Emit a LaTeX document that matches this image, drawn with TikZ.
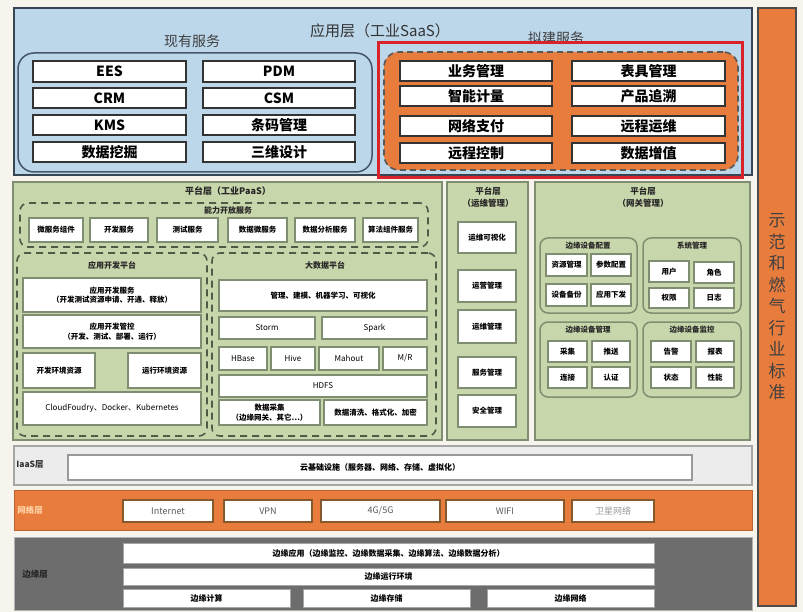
\documentclass[tikz,border=0pt]{standalone}
\usepackage{fontspec}
\setmainfont{Noto Sans CJK SC}
\definecolor{bgc}{HTML}{F6F4EC}
\definecolor{saasblue}{HTML}{BCD6EA}
\definecolor{orng}{HTML}{E87C3C}
\definecolor{grn}{HTML}{C8D6AC}
\definecolor{grnline}{HTML}{7F8E70}
\definecolor{dgrn}{HTML}{4E5C45}
\definecolor{edgegray}{HTML}{6D6D6D}
\definecolor{iaasgray}{HTML}{ECECEC}
\definecolor{redline}{HTML}{D8232A}
\definecolor{slate}{HTML}{46566A}
\newcommand\BX[7][]{%
  \pgfmathsetmacro\myCX{(#3+#5)/2}%
  \pgfmathsetmacro\myCY{(#4+#6)/2}%
  \pgfmathsetmacro\myWW{#5-#3}%
  \pgfmathsetmacro\myHH{#6-#4}%
  \node[#1, minimum width=\myWW pt, minimum height=\myHH pt] (#2) at (\myCX,\myCY) {#7};}
\tikzset{
  base/.style={inner sep=0pt, outer sep=0pt, rectangle, align=center},
  topbox/.style={base, draw=black!80, line width=1.4pt, fill=white, font=\fontsize{14}{16}\selectfont\bfseries},
  pbox/.style={base, draw=grnline, line width=1.4pt, fill=white, font=\fontsize{7.5}{9.5}\selectfont\bfseries},
  gbox/.style={pbox, font=\fontsize{7.5}{9}\selectfont\bfseries},
  outer/.style={base, draw=grnline, line width=1.3pt, fill=grn},
  dbox/.style={base, draw=dgrn, line width=1.6pt, dash pattern=on 7pt off 5pt, rounded corners=8pt},
  grp/.style={base, draw=grnline, line width=1.5pt, fill=grn, rounded corners=8pt},
  ttl/.style={inner sep=0pt, font=\fontsize{8}{10}\selectfont\bfseries, text=black!85, align=center},
  iabox/.style={base, draw=gray!80, line width=1.3pt, fill=white, font=\fontsize{8}{10}\selectfont\bfseries},
  netbox/.style={base, draw=brown!70!black, line width=1.3pt, fill=white, text=black!65, font=\fontsize{9}{11}\selectfont},
  edbox/.style={base, draw=gray!70, line width=1pt, fill=white, font=\fontsize{8}{10}\selectfont\bfseries},
}
\begin{document}
\begin{tikzpicture}[x=1pt,y=-1pt]
\useasboundingbox (0,0) rectangle (803,612);
\fill[bgc] (0,0) rectangle (803,612);

% ---------- application layer ----------
\BX[base, draw=slate!80!black, line width=1.4pt, fill=saasblue]{saas}{14}{8}{752}{175}{}
\node[inner sep=0pt, font=\fontsize{15}{17}\selectfont, text=black!80] (saastitle) at (380,31) {应用层（工业SaaS）};
\node[inner sep=0pt, font=\fontsize{14}{16}\selectfont, text=black!75] (exist) at (192,41) {现有服务};
\BX[base, draw=slate, line width=1.5pt, rounded corners=16pt]{existbox}{18}{53}{372}{172}{}
\BX[topbox]{ees}{33}{61}{186}{82}{EES}
\BX[topbox]{pdm}{203}{61}{355}{82}{PDM}
\BX[topbox]{crm}{33}{88}{186}{108}{CRM}
\BX[topbox]{csm}{203}{88}{355}{108}{CSM}
\BX[topbox]{kms}{33}{115}{186}{135}{KMS}
\BX[topbox]{tm}{203}{115}{355}{135}{条码管理}
\BX[topbox]{sjwj}{33}{142}{186}{162}{数据挖掘}
\BX[topbox]{swsj}{203}{142}{355}{162}{三维设计}

\node[inner sep=0pt, font=\fontsize{14}{16}\selectfont, text=black!75] (plan) at (556,38) {拟建服务};
\BX[base, fill=orng, draw=black!65, line width=1.6pt, dash pattern=on 6pt off 4pt, rounded corners=15pt]{planbox}{384}{52}{738}{170}{}
\BX[topbox]{ywgl}{400}{61}{552}{81}{业务管理}
\BX[topbox]{bjgl}{572}{61}{725}{81}{表具管理}
\BX[topbox]{znjl}{400}{86}{552}{106}{智能计量}
\BX[topbox]{cpzs}{572}{86}{725}{106}{产品追溯}
\BX[topbox]{wlzf}{400}{116}{552}{136}{网络支付}
\BX[topbox]{ycyw}{572}{116}{725}{136}{远程运维}
\BX[topbox]{yckz}{400}{143}{552}{163}{远程控制}
\BX[topbox]{sjzz}{572}{143}{725}{163}{数据增值}
\BX[base, draw=redline, line width=3pt]{redrect}{378}{43}{742}{178}{}

% ---------- right bar ----------
\BX[base, fill=orng, draw=black!70, line width=1.3pt]{bar}{758}{8}{796}{606}{}
\node[inner sep=0pt, font=\fontsize{17}{21.5}\selectfont, text=black!75, align=center] (std) at (777,307) {示\\范\\和\\燃\\气\\行\\业\\标\\准};

% ---------- PaaS ----------
\BX[outer]{paas}{13}{182}{442}{440}{}
\node[ttl, font=\fontsize{9}{11}\selectfont\bfseries] (paast) at (228,191) {平台层（工业PaaS）};
\BX[dbox]{nlkf}{20}{203}{428}{247}{}
\node[ttl] (nlkft) at (228,210) {能力开放服务};
\BX[pbox]{c1}{29}{218}{83}{242}{微服务组件}
\BX[pbox]{c2}{90}{218}{148}{242}{开发服务}
\BX[pbox]{c3}{157}{218}{218}{242}{测试服务}
\BX[pbox]{c4}{228}{218}{287}{242}{数据微服务}
\BX[pbox]{c5}{295}{218}{355}{242}{数据分析服务}
\BX[pbox]{c6}{363}{218}{418}{242}{算法组件服务}

\BX[dbox]{yykf}{17}{253}{207}{436}{}
\node[ttl] (yykft) at (112,265) {应用开发平台};
\BX[pbox]{a1}{23}{278}{201}{312}{应用开发服务\\（开发测试资源申请、开通、释放）}
\BX[pbox]{a2}{23}{315}{201}{348}{应用开发管控\\（开发、测试、部署、运行）}
\BX[pbox]{a3}{23}{353}{95}{388}{开发环境资源}
\BX[pbox]{a4}{128}{353}{201}{388}{运行环境资源}
\BX[pbox, font=\fontsize{8}{10}\selectfont]{a5}{23}{392}{201}{425}{CloudFoudry、Docker、Kubernetes}

\BX[dbox]{dsj}{212}{253}{436}{436}{}
\node[ttl] (dsjt) at (325,265) {大数据平台};
\BX[pbox]{b1}{219}{280}{427}{311}{管理、建模、机器学习、可视化}
\BX[pbox, font=\fontsize{8}{10}\selectfont]{b2}{219}{317}{315}{339}{Storm}
\BX[pbox, font=\fontsize{8}{10}\selectfont]{b3}{322}{317}{427}{339}{Spark}
\BX[pbox, font=\fontsize{8}{10}\selectfont]{b4}{219}{347}{267}{370}{HBase}
\BX[pbox, font=\fontsize{8}{10}\selectfont]{b5}{271}{347}{315}{370}{Hive}
\BX[pbox, font=\fontsize{8}{10}\selectfont]{b6}{319}{347}{379}{370}{Mahout}
\BX[pbox, font=\fontsize{8}{10}\selectfont]{b7}{383}{347}{427}{370}{M/R}
\BX[pbox, font=\fontsize{8}{10}\selectfont]{b8}{219}{375}{427}{397}{HDFS}
\BX[pbox]{b9}{219}{400}{320}{425}{数据采集\\（边缘网关、其它…）}
\BX[pbox]{b10}{324}{400}{427}{425}{数据清洗、格式化、加密}

% ---------- O&M ----------
\BX[outer]{ywpt}{447}{182}{528}{440}{}
\node[ttl, font=\fontsize{8.5}{12}\selectfont\bfseries] (ywptt) at (488,197) {平台层\\（运维管理）};
\BX[pbox]{m1}{458}{222}{516}{253}{运维可视化}
\BX[pbox]{m2}{458}{270}{516}{302}{运营管理}
\BX[pbox]{m3}{458}{310}{516}{343}{运维管理}
\BX[pbox]{m4}{458}{357}{516}{388}{服务管理}
\BX[pbox]{m5}{458}{395}{516}{427}{安全管理}

% ---------- gateway ----------
\BX[outer]{wgpt}{535}{182}{750}{440}{}
\node[ttl, font=\fontsize{8.5}{12}\selectfont\bfseries] (wgptt) at (643,197) {平台层\\（网关管理）};
\BX[grp]{g1}{540}{238}{637}{313}{}
\node[ttl, font=\fontsize{7.5}{9}\selectfont\bfseries] (g1t) at (588,246) {边缘设备配置};
\BX[gbox]{g11}{546}{254}{587}{276}{资源管理}
\BX[gbox]{g12}{591}{254}{631}{276}{参数配置}
\BX[gbox]{g13}{546}{284}{587}{306}{设备备份}
\BX[gbox]{g14}{591}{284}{631}{306}{应用下发}
\BX[grp]{g2}{643}{238}{741}{313}{}
\node[ttl, font=\fontsize{7.5}{9}\selectfont\bfseries] (g2t) at (692,246) {系统管理};
\BX[gbox]{g21}{649}{261}{689}{282}{用户}
\BX[gbox]{g22}{694}{262}{734}{283}{角色}
\BX[gbox]{g23}{649}{288}{689}{308}{权限}
\BX[gbox]{g24}{694}{288}{734}{308}{日志}
\BX[grp]{g3}{540}{322}{637}{397}{}
\node[ttl, font=\fontsize{7.5}{9}\selectfont\bfseries] (g3t) at (588,330) {边缘设备管理};
\BX[gbox]{g31}{548}{341}{587}{362}{采集}
\BX[gbox]{g32}{592}{341}{630}{362}{推送}
\BX[gbox]{g33}{548}{367}{587}{388}{连接}
\BX[gbox]{g34}{592}{367}{630}{388}{认证}
\BX[grp]{g4}{643}{322}{741}{397}{}
\node[ttl, font=\fontsize{7.5}{9}\selectfont\bfseries] (g4t) at (692,330) {边缘设备监控};
\BX[gbox]{g41}{651}{341}{691}{362}{告警}
\BX[gbox]{g42}{696}{341}{734}{362}{报表}
\BX[gbox]{g43}{651}{367}{691}{388}{状态}
\BX[gbox]{g44}{696}{367}{734}{388}{性能}

% ---------- IaaS ----------
\BX[base, fill=iaasgray, draw=gray!70, line width=1.3pt]{iaas}{14}{446}{752}{485}{}
\node[inner sep=0pt, font=\fontsize{8.5}{10}\selectfont\bfseries, text=black!80] (iaast) at (30,464) {IaaS层};
\BX[iabox]{iaasin}{68}{455}{692}{480}{云基础设施（服务器、网络、存储、虚拟化）}

% ---------- network ----------
\BX[base, fill=orng, draw=orng!80!black, line width=1pt]{net}{14}{490}{752}{530}{}
\node[inner sep=0pt, font=\fontsize{8.5}{10}\selectfont\bfseries, text=orange!35!white] (nett) at (30,510) {网络层};
\BX[netbox]{n1}{123}{500}{213}{522}{Internet}
\BX[netbox]{n2}{224}{500}{312}{522}{VPN}
\BX[netbox]{n3}{321}{500}{440}{522}{4G/5G}
\BX[netbox]{n4}{446}{500}{564}{522}{WIFI}
\BX[netbox, text=black!40]{n5}{572}{500}{654}{522}{卫星网络}

% ---------- edge ----------
\BX[base, fill=edgegray, draw=gray!60, line width=1pt]{edge}{14}{537}{752}{610}{}
\node[inner sep=0pt, font=\fontsize{8.5}{10}\selectfont\bfseries, text=black!85] (edget) at (35,574) {边缘层};
\BX[edbox]{e1}{123}{543}{654}{563}{边缘应用（边缘监控、边缘数据采集、边缘算法、边缘数据分析）}
\BX[edbox]{e2}{123}{568}{654}{585}{边缘运行环境}
\BX[edbox]{e3}{123}{589}{290}{607}{边缘计算}
\BX[edbox]{e4}{303}{589}{470}{607}{边缘存储}
\BX[edbox]{e5}{487}{589}{654}{607}{边缘网络}
\end{tikzpicture}
\end{document}
